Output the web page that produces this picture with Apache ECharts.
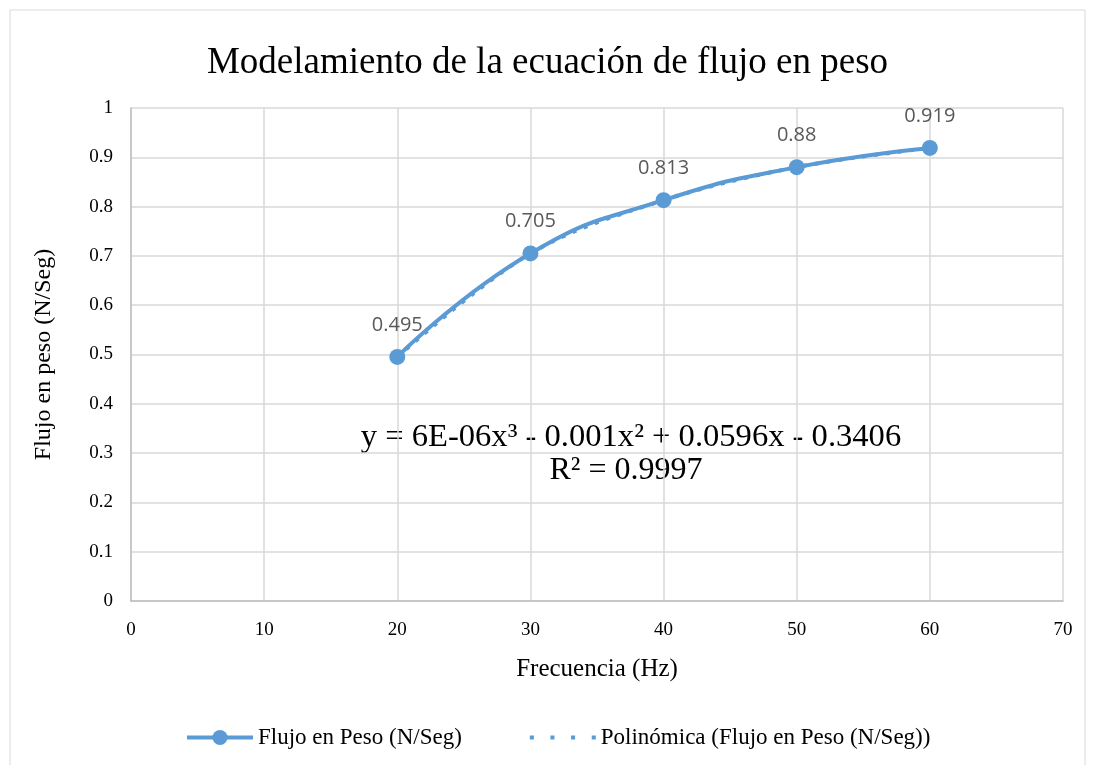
<!DOCTYPE html>
<html>
<head>
<meta charset="utf-8">
<script src="https://cdn.jsdelivr.net/npm/echarts@6/dist/echarts.min.js"></script>
<style>
  html, body { margin: 0; padding: 0; background: #fff; }
  #chart { width: 1095px; height: 765px; }
</style>
</head>
<body>
<div id="chart"></div>
<script>
// frecuencia (Hz) vs flujo en peso (N/Seg)
const frecuencia = [20, 30, 40, 50, 60];
const flujo = [0.495, 0.705, 0.813, 0.88, 0.919];
const yTicks = [0, 0.1, 0.2, 0.3, 0.4, 0.5, 0.6, 0.7, 0.8, 0.9, 1];
const xTicks = [0, 10, 20, 30, 40, 50, 60, 70];
const ecuacion = "y = 6E-06x³ - 0.001x² + 0.0596x - 0.3406";
const r2 = "R² = 0.9997";

const azul = "#5B9BD5";
const serif = "'Liberation Serif', 'Times New Roman', serif";

const chart = echarts.init(document.getElementById("chart"));

const puntos = frecuencia.map((x, i) => [x, flujo[i]]);

// icono punteado para la leyenda de la tendencia
const iconoPunteado = "path://M0,0h4v4h-4zM20.3,0h4v4h-4zM40.6,0h4v4h-4zM61,0h4v4h-4z";

const option = {
  animation: false,
  backgroundColor: "#fff",
  title: {
    text: "Modelamiento de la ecuación de flujo en peso",
    left: "center",
    top: 40,
    textStyle: { fontFamily: serif, fontSize: 37, fontWeight: "normal", color: "#000" }
  },
  grid: { left: 131, right: 32, top: 108, bottom: 164 },
  xAxis: {
    type: "value",
    min: xTicks[0],
    max: xTicks[xTicks.length - 1],
    interval: 10,
    name: "Frecuencia (Hz)",
    nameLocation: "middle",
    nameGap: 56,
    nameTextStyle: { fontFamily: serif, fontSize: 25, color: "#000" },
    axisLine: { lineStyle: { color: "#BFBFBF", width: 1.5 } },
    axisTick: { show: false },
    axisLabel: { fontFamily: serif, fontSize: 19, color: "#000", margin: 20 },
    splitLine: { lineStyle: { color: "#D9D9D9", width: 1.5 } }
  },
  yAxis: {
    type: "value",
    min: yTicks[0],
    max: yTicks[yTicks.length - 1],
    interval: 0.1,
    name: "Flujo en peso (N/Seg)",
    nameLocation: "middle",
    nameGap: 75,
    nameTextStyle: { fontFamily: serif, fontSize: 24, color: "#000" },
    axisLine: { show: true, lineStyle: { color: "#BFBFBF", width: 1.5 } },
    axisTick: { show: false },
    axisLabel: { fontFamily: serif, fontSize: 19, color: "#000", margin: 18 },
    splitLine: { lineStyle: { color: "#D9D9D9", width: 1.5 } }
  },
  legend: {
    bottom: 11,
    left: 180,
    itemGap: 68,
    itemWidth: 66,
    itemHeight: 19,
    textStyle: { fontFamily: serif, fontSize: 23, color: "#000" },
    data: [
      { name: "Flujo en Peso (N/Seg)", lineStyle: { width: 4 } },
      { name: "Polinómica (Flujo en Peso (N/Seg))", icon: iconoPunteado, itemStyle: { color: azul } }
    ]
  },
  series: [
    {
      name: "Polinómica (Flujo en Peso (N/Seg))",
      type: "line",
      data: puntos,
      smooth: 0.35,
      showSymbol: false,
      symbol: "none",
      lineStyle: { color: azul, width: 4, type: [4, 8] },
      itemStyle: { color: azul },
      z: 3
    },
    {
      name: "Flujo en Peso (N/Seg)",
      type: "line",
      data: puntos,
      smooth: 0.5,
      symbol: "circle",
      symbolSize: 16,
      lineStyle: { color: azul, width: 4 },
      itemStyle: { color: azul },
      label: {
        show: true,
        position: "top",
        distance: 14,
        fontFamily: "'Open Sans', 'Liberation Sans', sans-serif",
        fontSize: 20,
        color: "#595959"
      },
      z: 4
    }
  ],
  graphic: [
    {
      type: "rect",
      shape: { x: 10, y: 10, width: 1075, height: 770 },
      style: { fill: "none", stroke: "#D9D9D9", lineWidth: 1 },
      silent: true
    },
    {
      type: "text",
      x: 631,
      y: 437,
      style: { text: ecuacion, font: "32.6px " + serif, fill: "#000", align: "center", verticalAlign: "middle" }
    },
    {
      type: "text",
      x: 626,
      y: 471,
      style: { text: r2, font: "32px " + serif, fill: "#000", align: "center", verticalAlign: "middle" }
    }
  ]
};

chart.setOption(option);
</script>
</body>
</html>
